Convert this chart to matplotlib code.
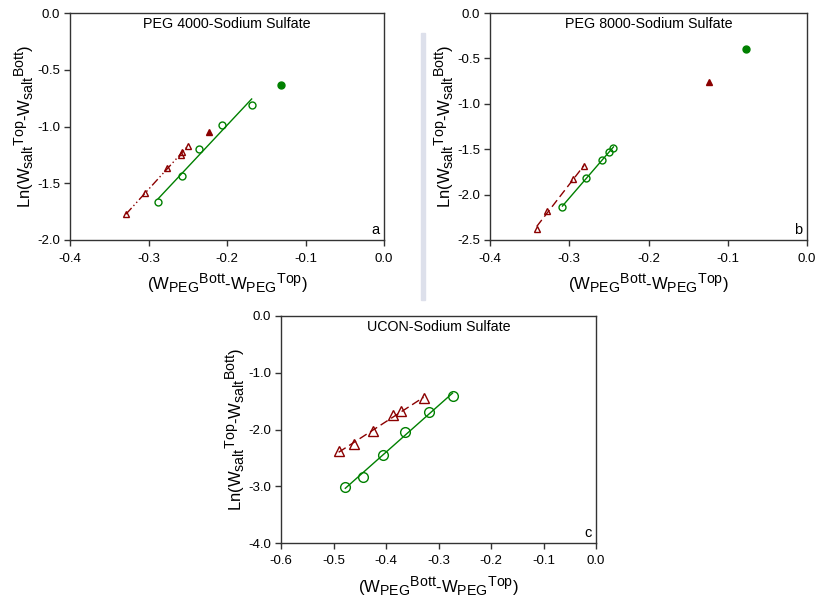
import numpy as np
import matplotlib.pyplot as plt
import matplotlib._mathtext as mtext
from matplotlib.patches import Rectangle

plt.rcParams['font.family'] = ['Liberation Sans', 'DejaVu Sans']
plt.rcParams['mathtext.default'] = 'regular'
# sub/superscripts in the original are only a little smaller than the text
mtext.SHRINK_FACTOR = 0.85

# panel a: PEG 4000
a_circ_x = [-0.2875, -0.2578, -0.2352, -0.2068, -0.1686]
a_circ_y = [-1.668, -1.435, -1.194, -0.988, -0.812]
a_circ_fill = (-0.1316, -0.632)
a_tri_x = [-0.3287, -0.3040, -0.2760, -0.2590, -0.2573, -0.2501]
a_tri_y = [-1.774, -1.582, -1.368, -1.250, -1.229, -1.171]
a_tri_fill = (-0.2229, -1.050)

# panel b: PEG 8000
b_circ_x = [-0.3086, -0.2787, -0.2581, -0.2497, -0.2442]
b_circ_y = [-2.132, -1.813, -1.614, -1.529, -1.482]
b_circ_fill = (-0.0771, -0.393)
b_tri_x = [-0.3411, -0.3284, -0.2947, -0.2813]
b_tri_y = [-2.375, -2.180, -1.824, -1.688]
b_tri_fill = (-0.1238, -0.765)

# panel c: UCON
c_circ_x = [-0.4775, -0.4445, -0.4058, -0.3640, -0.3190, -0.2733]
c_circ_y = [-3.012, -2.829, -2.453, -2.047, -1.700, -1.406]
c_tri_x = [-0.4902, -0.4604, -0.4242, -0.3874, -0.3716, -0.3285]
c_tri_y = [-2.371, -2.259, -2.035, -1.753, -1.676, -1.447]

green = '#008000'
red = '#8b0000'
ylab = r'Ln(W$_{salt}$$^{Top}$-W$_{salt}$$^{Bott}$)'
xlab = r'(W$_{PEG}$$^{Bott}$-W$_{PEG}$$^{Top}$)'

fig = plt.figure(figsize=(8.18, 6), dpi=100)

# faint vertical strip between the upper panels
fig.patches.append(Rectangle((421/818, 1-300/600), 4/818, 267/600,
                             transform=fig.transFigure, color='#dde0eb', zorder=0))


def fitline(ax, x, y, color, dashes):
    k, b = np.polyfit(x, y, 1)
    xs = np.array([min(x), max(x)])
    ax.plot(xs, k*xs + b, color=color, lw=1, dashes=dashes)


def panel(rect, title, letter, xlim, ylim, xt, yt, cx, cy, tx, ty, tdash,
          cfill=None, tfill=None, ms=5):
    ax = fig.add_axes(rect)
    fitline(ax, cx, cy, green, [])
    fitline(ax, tx, ty, red, tdash)
    ax.plot(cx, cy, 'o', mfc='none', mec=green, ms=ms, mew=1)
    ax.plot(tx, ty, '^', mfc='none', mec=red, ms=ms, mew=1)
    if cfill:
        ax.plot(*cfill, 'o', color=green, ms=ms)
    if tfill:
        ax.plot(*tfill, '^', color=red, ms=ms)
    ax.set_xlim(xlim)
    ax.set_ylim(ylim)
    ax.set_xticks(xt)
    ax.set_yticks(yt)
    ax.set_xticklabels(['%.1f' % v for v in xt])
    ax.set_yticklabels(['%.1f' % v for v in yt])
    ax.tick_params(direction='out', length=4, width=1, labelsize=9.5,
                   color='#333333')
    ax.tick_params(axis='x', pad=5)
    ax.tick_params(axis='y', pad=3)
    for s in ax.spines.values():
        s.set_color('#333333')
        s.set_linewidth(1)
    ax.text(0.5, 0.952, title, transform=ax.transAxes, ha='center', va='center',
            fontsize=10.3)
    ax.text(0.985, 0.015, letter, transform=ax.transAxes, ha='right',
            va='bottom', fontsize=10.5)
    ax.set_xlabel(xlab, fontsize=12, labelpad=5)
    ax.set_ylabel(ylab, fontsize=12, labelpad=1)
    return ax


panel([70/818, 0.6, 314/818, 227/600], 'PEG 4000-Sodium Sulfate', 'a',
      (-0.4, 0.0), (-2.0, 0.0), [-0.4, -0.3, -0.2, -0.1, 0.0],
      [-2.0, -1.5, -1.0, -0.5, 0.0],
      a_circ_x, a_circ_y, a_tri_x, a_tri_y, [6, 2, 1, 2, 1, 2],
      a_circ_fill, a_tri_fill)

panel([490/818, 0.6, 317/818, 227/600], 'PEG 8000-Sodium Sulfate', 'b',
      (-0.4, 0.0), (-2.5, 0.0), [-0.4, -0.3, -0.2, -0.1, 0.0],
      [-2.5, -2.0, -1.5, -1.0, -0.5, 0.0],
      b_circ_x, b_circ_y, b_tri_x, b_tri_y, [6, 3],
      b_circ_fill, b_tri_fill)

panel([281/818, 57/600, 315/818, 227/600], 'UCON-Sodium Sulfate', 'c',
      (-0.6, 0.0), (-4.0, 0.0), [-0.6, -0.5, -0.4, -0.3, -0.2, -0.1, 0.0],
      [-4.0, -3.0, -2.0, -1.0, 0.0],
      c_circ_x, c_circ_y, c_tri_x, c_tri_y, [6, 3], ms=7)

fig.savefig('out.png', dpi=100)
